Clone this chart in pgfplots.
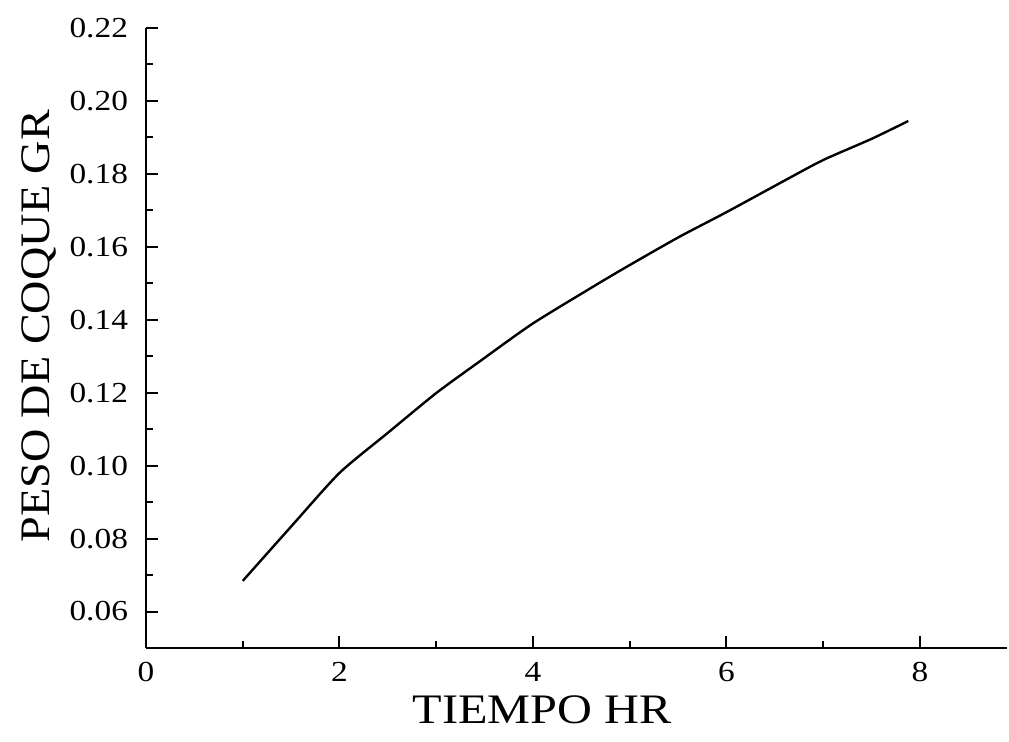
\documentclass[border=0pt]{standalone}
\usepackage{pgfplots}
\pgfplotsset{compat=1.18}
\usepackage{fontspec}
\setmainfont{Liberation Serif}
\newfontfamily\widefont[FakeStretch=1.15]{Liberation Serif}
\newfontfamily\ylabfont[FakeStretch=1.1]{Liberation Serif}
\begin{document}
\begin{tikzpicture}
\begin{axis}[
  scale only axis,
  width=430.5pt, height=310pt,
  xmin=0, xmax=8.9, ymin=0.05, ymax=0.22,
  axis x line*=bottom, axis y line*=left,
  axis line style={line width=1.2pt},
  xtick={0,2,4,6,8}, minor xtick={1,3,5,7},
  ytick={0.06,0.08,...,0.221}, minor ytick={0.05,0.07,...,0.215},
  tick align=inside,
  major tick length=6pt, minor tick length=3.5pt,
  every tick/.style={line width=1pt, black},
  tick label style={font=\widefont\fontsize{14.5}{17}\selectfont},
  /pgf/number format/assume math mode=true,
  yticklabel style={/pgf/number format/.cd, fixed, fixed zerofill, precision=2, /tikz/.cd, xshift=-5.5pt},
  xticklabel style={yshift=-3.5pt},
  xlabel={TIEMPO HR},
  ylabel={PESO DE COQUE GR},
  xlabel style={font=\widefont\fontsize{21}{25}\selectfont, at={([yshift=-20.5pt]axis description cs:0.46,0)}, anchor=north},
  ylabel style={font=\ylabfont\fontsize{21}{25}\selectfont, at={([xshift=-41.5pt]axis description cs:0,0.519)}, anchor=south, rotate=0},
  clip=false,
]
\addplot[black, line width=1.2pt, smooth, tension=0.4] coordinates {
(1,0.0684) (1.5,0.0833) (2,0.098) (2.5,0.109) (3,0.1199) (3.44,0.1284)
(4,0.139) (4.68,0.150) (5,0.155) (5.51,0.1627) (6,0.1695) (6.61,0.1783)
(7,0.1838) (7.5,0.1896) (7.88,0.1945)
};
\coordinate (ll) at (rel axis cs:0,0);
\coordinate (ur) at (rel axis cs:1,1);
\end{axis}
\pgfresetboundingbox
\path ([shift={(-73pt,-47pt)}]ll) rectangle ([shift={(1pt,14pt)}]ur);
\end{tikzpicture}
\end{document}
